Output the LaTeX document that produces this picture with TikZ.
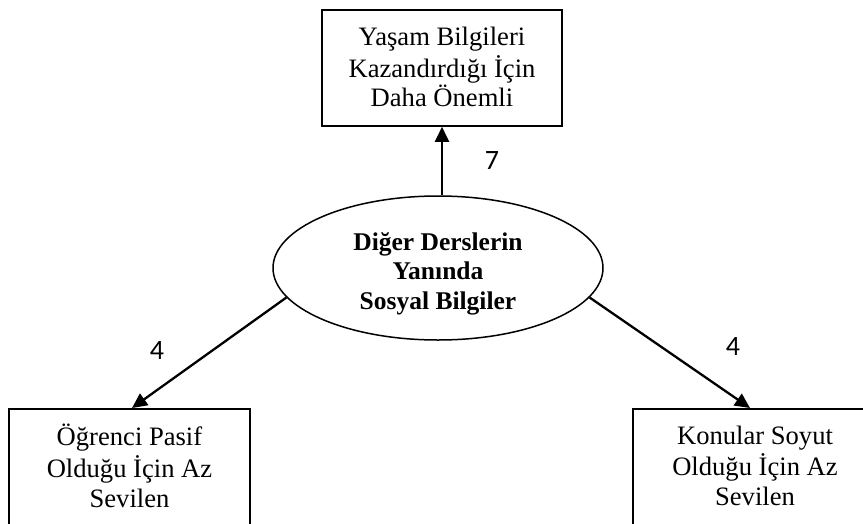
\documentclass[tikz,border=0pt]{standalone}
\usepackage{fontspec}
\setmainfont{Liberation Serif}
\newfontfamily\numfont{Carlito}
\usetikzlibrary{arrows.meta,shapes.geometric}
\tikzset{
  txt/.style={font={\fontsize{26.6}{29.4}\selectfont}, align=center},
  box/.style={txt, draw, line width=1.6pt, rectangle, inner xsep=0pt},
  oval/.style={txt, font={\fontsize{25.5}{29.4}\selectfont\bfseries}, draw, line width=1.5pt, ellipse, inner sep=0pt},
  conn/.style={line width=2.3pt, -{Triangle[length=15pt,width=14pt]}},
  num/.style={font={\numfont\fontsize{28}{32}\selectfont}, inner sep=0pt}
}
\begin{document}
\begin{tikzpicture}[x=1pt,y=-1pt]
\useasboundingbox (0,0) rectangle (863,523);
\node[box, minimum width=240, minimum height=116, inner ysep=0pt] (top) at (442,68)
  {\strut Yaşam Bilgileri\\Kazandırdığı İçin\\Daha Önemli\rule[-4.4pt]{0pt}{0pt}};
\node[oval, minimum width=330, minimum height=144] (ell) at (438,268)
  {\rule{0pt}{32.8pt}Diğer Derslerin\\Yanında\\Sosyal Bilgiler\strut};
\node[box, anchor=north, minimum width=241, inner ysep=15.5pt] (lbox) at (129.5,408)
  {\strut Öğrenci Pasif\\Olduğu İçin Az\\Sevilen\strut};
\node[box, anchor=north, minimum width=300, inner ysep=15.5pt] (rbox) at (783,408)
  {\hbox{\begin{tabular}{@{}c@{}}Konular Soyut\\Olduğu İçin Az\\Sevilen\end{tabular}\kern56pt}};
\draw[conn] (ell.north -| top.south) -- (top.south);
\draw[conn] (ell.191) -- ([xshift=2.5pt]lbox.north);
\draw[conn] (ell.349) -- ([xshift=-33pt]rbox.north);
\node[num] (n7) at (492,161) {7};
\node[num] (n4a) at (157,351) {4};
\node[num] (n4b) at (733,347) {4};
\end{tikzpicture}
\end{document}
